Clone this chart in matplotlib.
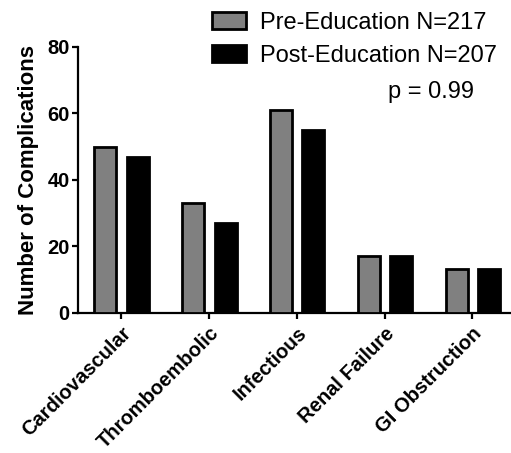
import numpy as np
import matplotlib
matplotlib.use('Agg')
import matplotlib.pyplot as plt
from matplotlib.patches import Patch

plt.rcParams['font.family'] = ['Liberation Sans', 'DejaVu Sans']

categories = ['Cardiovascular', 'Thromboembolic', 'Infectious', 'Renal Failure', 'GI Obstruction']
pre_values = [50, 33, 61, 17, 13]
post_values = [47, 27, 55, 17, 13]
series_labels = ['Pre-Education N=217', 'Post-Education N=207']
y_ticks = [0, 20, 40, 60, 80]

fig = plt.figure(figsize=(5.11, 4.53), dpi=100)
fig.patch.set_facecolor('white')
ax = fig.add_axes([78 / 511, 1 - 312.5 / 453, 1 - 78 / 511, (312.5 - 47) / 453])

x = np.arange(len(categories))
w = 0.25
ax.bar(x - 0.18, pre_values, w, color='#808080', edgecolor='black', linewidth=2.0, zorder=3)
ax.bar(x + 0.19, post_values, w, color='black', edgecolor='black', linewidth=2.0, zorder=3)

ax.set_xlim(-0.49, 4.44)
ax.set_ylim(0, 80)
ax.set_yticks(y_ticks)
ax.set_yticklabels([str(v) for v in y_ticks], fontsize=14.5, fontweight='bold')
ax.set_xticks(x)
ax.set_xticklabels(categories, rotation=45, ha='right', rotation_mode='anchor',
                   fontsize=14.5, fontweight='bold')

for s in ['top', 'right']:
    ax.spines[s].set_visible(False)
for s in ['left', 'bottom']:
    ax.spines[s].set_linewidth(1.6)
ax.tick_params(axis='both', direction='out', length=4, width=1.6, pad=2)
ax.tick_params(axis='x', pad=4)

ax.set_ylabel('Number of Complications', fontsize=16, fontweight='bold', labelpad=6)

handles = [Patch(facecolor='#808080', edgecolor='black', linewidth=2.0),
           Patch(facecolor='black', edgecolor='black', linewidth=2.0)]
fig.legend(handles, series_labels, loc='upper left', bbox_to_anchor=(212 / 511, 1 - 12 / 453),
           frameon=False, fontsize=17, handlelength=1.45, handleheight=0.75,
           handletextpad=0.6, labelspacing=0.45, borderpad=0, borderaxespad=0)

fig.text(388 / 511, 1 - 92 / 453, 'p = 0.99', fontsize=17, va='center', ha='left')

fig.savefig('out.png', dpi=100, facecolor='white')
